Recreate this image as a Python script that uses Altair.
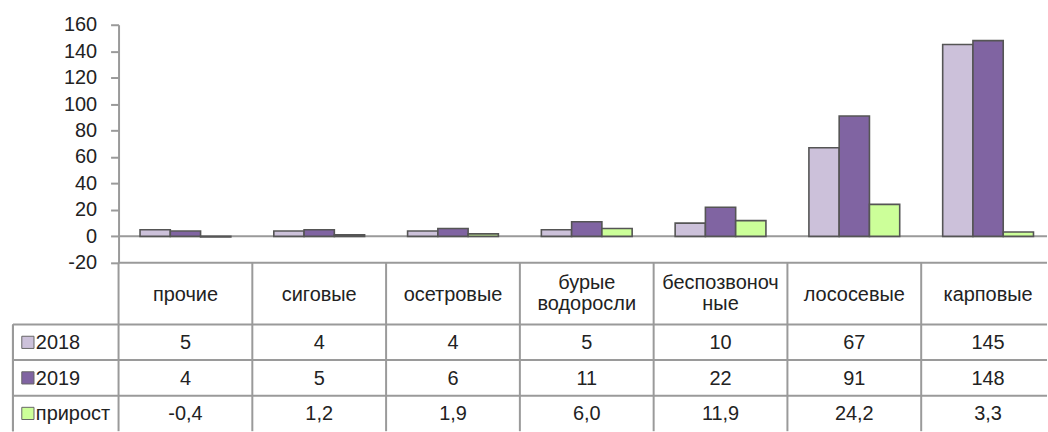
import altair as alt
import pandas as pd

# ---- data ----
categories = ["прочие", "сиговые", "осетровые", "бурые водоросли",
              "беспозвоночные", "лососевые", "карповые"]
header_labels = ["прочие", "сиговые", "осетровые", "бурые\nводоросли",
                 "беспозвоноч\nные", "лососевые", "карповые"]
series = ["2018", "2019", "прирост"]
values_2018 = [5, 4, 4, 5, 10, 67, 145]
values_2019 = [4, 5, 6, 11, 22, 91, 148]
values_growth = [-0.4, 1.2, 1.9, 6.0, 11.9, 24.2, 3.3]
y_ticks = [-20, 0, 20, 40, 60, 80, 100, 120, 140, 160]
ref_lines = [0, -20]

# ---- styles ----
colors = ["#CCC1DA", "#8064A2", "#CCFF99"]
GRID = "#9a9a9a"
TXT = "#222222"
FONT = "Liberation Sans"
FS = 20
LINE_H = 21.5
LEFT_W = 106
PLOT_W = 932
BAND_SPAN = 940
BAR_H = 239
HDR_H = 62
BODY_H = 107

# ---- tables ----
rows = []
for s, vals in zip(series, [values_2018, values_2019, values_growth]):
    for c, v in zip(categories, vals):
        lab = f"{v:.1f}".replace(".", ",") if s == "прирост" else f"{v:.0f}"
        rows.append({"cat": c, "series": s, "value": v, "label": lab})
df = pd.DataFrame(rows)
hdr_df = pd.DataFrame({"cat": categories, "label": header_labels})
ser_df = pd.DataFrame({"series": series})
ref_df = pd.DataFrame({"value": ref_lines})

def xscale():
    return alt.Scale(domain=categories, range=[0, BAND_SPAN], paddingInner=0, paddingOuter=0)

yscale = alt.Scale(domain=[-20, 160], nice=False, zero=False)
color = alt.Color("series:N", scale=alt.Scale(domain=series, range=colors), legend=None)
rowscale = alt.Scale(domain=series, paddingInner=0, paddingOuter=0)

yaxis = alt.Axis(values=y_ticks, title=None, grid=False,
                 labelOverlap=False, labelBound=False, labelFlush=False,
                 labelExpr="datum.value < 0 ? '-' + abs(datum.value) : '' + datum.value",
                 domainColor=GRID, domainWidth=2,
                 tickColor=GRID, tickWidth=2, tickSize=8,
                 labelPadding=14, labelFontSize=FS, labelColor=TXT,
                 labelFont=FONT)

# ---- bar chart ----
ref = alt.Chart(ref_df).mark_rule(color=GRID, strokeWidth=2).encode(
    y=alt.Y("value:Q", scale=yscale, axis=yaxis)
)
bars = alt.Chart(df).mark_bar(stroke="#555555", strokeWidth=1.6).encode(
    x=alt.X("cat:N", sort=categories, scale=xscale(), axis=None),
    xOffset=alt.XOffset("series:N", sort=series,
                        scale=alt.Scale(domain=series, paddingOuter=0.71, paddingInner=0)),
    y=alt.Y("value:Q", scale=yscale, axis=yaxis),
    color=color,
)
bar_chart = alt.layer(ref, bars).properties(width=PLOT_W, height=BAR_H)

# ---- header row ----
hdr_lines = alt.Chart(hdr_df).mark_rule(color=GRID, strokeWidth=2).encode(
    x=alt.X("cat:N", sort=categories, scale=xscale(), bandPosition=0, axis=None)
)
hdr_one = alt.Chart(hdr_df).transform_filter(
    "indexof(datum.label, '\\n') < 0"
).mark_text(
    fontSize=FS, font=FONT, color=TXT, baseline="middle", dy=1
).encode(
    x=alt.X("cat:N", sort=categories, scale=xscale(), axis=None),
    y=alt.value(HDR_H / 2),
    text="label:N",
)
hdr_two = alt.Chart(hdr_df).transform_filter(
    "indexof(datum.label, '\\n') >= 0"
).mark_text(
    fontSize=FS, font=FONT, color=TXT, lineBreak="\n", lineHeight=LINE_H,
    baseline="middle", dy=-LINE_H / 2
).encode(
    x=alt.X("cat:N", sort=categories, scale=xscale(), axis=None),
    y=alt.value(HDR_H / 2),
    text="label:N",
)
header = alt.layer(hdr_lines, hdr_one, hdr_two).properties(width=PLOT_W, height=HDR_H)

# ---- body rows ----
body_h = alt.Chart(ser_df).mark_rule(color=GRID, strokeWidth=2).encode(
    y=alt.Y("series:N", sort=series, scale=rowscale, bandPosition=0, axis=None)
)
body_v = alt.Chart(hdr_df).mark_rule(color=GRID, strokeWidth=2).encode(
    x=alt.X("cat:N", sort=categories, scale=xscale(), bandPosition=0, axis=None)
)
body_text = alt.Chart(df).mark_text(fontSize=FS, font=FONT, color=TXT, baseline="middle", dy=1).encode(
    x=alt.X("cat:N", sort=categories, scale=xscale(), axis=None),
    y=alt.Y("series:N", sort=series, scale=rowscale, axis=None),
    text="label:N",
)
body = alt.layer(body_h, body_v, body_text).properties(width=PLOT_W, height=BODY_H)

# ---- legend column ----
leg_h = alt.Chart(ser_df).mark_rule(color=GRID, strokeWidth=2).encode(
    y=alt.Y("series:N", sort=series, scale=rowscale, bandPosition=0, axis=None)
)
leg_left = alt.Chart(ser_df).mark_rule(color=GRID, strokeWidth=2).encode(
    x=alt.value(0)
)
leg_sq = alt.Chart(ser_df).mark_square(size=150, stroke="#666666", strokeWidth=1, opacity=1).encode(
    x=alt.value(15),
    y=alt.Y("series:N", sort=series, scale=rowscale, axis=None),
    color=color,
)
leg_txt = alt.Chart(ser_df).mark_text(fontSize=FS, font=FONT, color=TXT, align="left",
                                      baseline="middle", dy=1).encode(
    x=alt.value(23),
    y=alt.Y("series:N", sort=series, scale=rowscale, axis=None),
    text="series:N",
)
legend = alt.layer(leg_h, leg_left, leg_sq, leg_txt).properties(width=LEFT_W, height=BODY_H)

def blank(h):
    return alt.Chart(pd.DataFrame({"a": [0]})).mark_point(opacity=0).encode(
        x=alt.value(0), y=alt.value(0)
    ).properties(width=LEFT_W, height=h)

chart = alt.concat(
    blank(BAR_H), bar_chart,
    blank(HDR_H), header,
    legend, body,
    columns=2, spacing=0, bounds="flush",
).properties(
    padding={"left": 10, "top": 14, "right": 0, "bottom": 0}
).configure(font=FONT).configure_view(stroke=None).configure_axis(labelOverlap=False)

chart.save("out.html", embed_options={"renderer": "svg", "actions": False})
